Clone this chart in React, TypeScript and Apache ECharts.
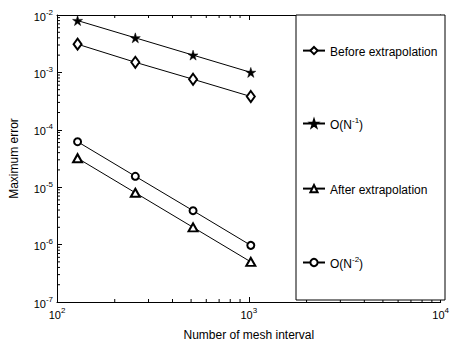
import React, { useEffect, useRef } from "react";
import * as echarts from "echarts";

const meshSizes = [128, 256, 512, 1024];
const beforeExtrap = [3.1e-3, 1.5e-3, 7.6e-4, 3.8e-4];
const orderN1 = [8.0e-3, 4.0e-3, 2.0e-3, 1.0e-3];
const afterExtrap = [3.2e-5, 8.0e-6, 2.0e-6, 5.0e-7];
const orderN2 = [6.2e-5, 1.55e-5, 3.9e-6, 9.7e-7];

const seriesNames = ["Before extrapolation", "O(N^-1)", "After extrapolation", "O(N^-2)"];
const legendLabels: Record<string, string> = {
  "Before extrapolation": "{b|Before extrapolation}",
  "O(N^-1)": "{b|O(N}{s|-1}{b|)}",
  "After extrapolation": "{b|After extrapolation}",
  "O(N^-2)": "{b|O(N}{s|-2}{b|)}",
};

const xMinorTicks = [200, 300, 400, 500, 600, 700, 800, 900, 2000, 3000, 4000, 5000, 6000, 7000, 8000, 9000];
const yMinorMantissas = [2, 3, 4, 5, 6, 7, 8, 9];
const yDecades = [-7, -6, -5, -4, -3];

const STAR =
  "path://M50 0 L61.23 34.55 L97.55 34.55 L68.16 55.9 L79.39 90.45 L50 69.1 L20.61 90.45 L31.84 55.9 L2.45 34.55 L38.77 34.55 Z";

const FONT = "Liberation Sans, Arial, Helvetica, sans-serif";

export default function App() {
  const ref = useRef<HTMLDivElement>(null);
  useEffect(() => {
    if (!ref.current) return;
    const chart = echarts.init(ref.current, undefined, { renderer: "svg" });
    const pair = (ys: number[]) => meshSizes.map((x, i) => [x, ys[i]]);
    const richLabel = {
      b: { fontSize: 11, fontFamily: FONT, color: "#000", lineHeight: 14, verticalAlign: "bottom" },
      s: { fontSize: 8, fontFamily: FONT, color: "#000", lineHeight: 9, verticalAlign: "top" },
    };
    const richLegend = {
      b: { fontSize: 12, fontFamily: FONT, color: "#000", lineHeight: 15, verticalAlign: "bottom" },
      s: { fontSize: 8, fontFamily: FONT, color: "#000", lineHeight: 9, verticalAlign: "top" },
    };
    const expFmt = (v: number) => `{b|10}{s|${Math.round(Math.log10(v))}}`;

    const yMinor: number[][] = [];
    yDecades.forEach((d) => yMinorMantissas.forEach((m) => yMinor.push([100, m * Math.pow(10, d)])));
    const xMinor = xMinorTicks.map((x) => [x, 1e-7]);

    const lineSeries = (name: string, ys: number[], symbol: string, size: any) => ({
      type: "line",
      name,
      data: pair(ys),
      symbol,
      symbolSize: size,
      showAllSymbol: true,
      color: "#000",
      lineStyle: { color: "#000", width: 1 },
      itemStyle: { color: "#000", borderColor: "#000", borderWidth: symbol === STAR ? 0.5 : 1.2 },
      z: 5,
    });

    const makeLegend = (name: string, top: number) => ({
      show: true,
      orient: "vertical",
      left: 302,
      top,
      padding: 0,
      itemWidth: 22,
      itemHeight: 9,
      z: 60,
      data: [name],
      selectedMode: false,
      formatter: (n: string) => legendLabels[n],
      textStyle: {
        fontFamily: FONT,
        fontSize: 12,
        color: "#000",
        rich: richLegend,
      },
    });

    const axisCommon = {
      type: "log",
      logBase: 10,
      axisLine: { show: true, lineStyle: { color: "#000", width: 1 } },
      axisTick: { show: true, inside: true, length: 5, lineStyle: { color: "#000" } },
      splitLine: { show: false },
      minorTick: { show: false },
    };

    chart.setOption({
      animation: false,
      backgroundColor: "#fff",
      grid: { left: 52, right: 8, top: 15, bottom: 37 },
      xAxis: [
        {
          ...axisCommon,
          position: "bottom",
          min: 100,
          max: 10000,
          interval: 1,
          name: "Number of mesh interval",
          nameLocation: "middle",
          nameGap: 27,
          nameTextStyle: { fontFamily: FONT, fontSize: 12, color: "#000" },
          axisLabel: { formatter: expFmt, margin: 4, rich: richLabel },
        },
        {
          ...axisCommon,
          position: "top",
          min: 100,
          max: 10000,
          interval: 1,
          axisLabel: { show: false },
        },
      ],
      yAxis: [
        {
          ...axisCommon,
          position: "left",
          min: 1e-7,
          max: 1e-2,
          interval: 1,
          name: "Maximum error",
          nameLocation: "middle",
          nameGap: 37,
          nameTextStyle: { fontFamily: FONT, fontSize: 12, color: "#000" },
          axisLabel: { formatter: expFmt, margin: 4, rich: richLabel },
        },
        {
          ...axisCommon,
          position: "right",
          min: 1e-7,
          max: 1e-2,
          interval: 1,
          axisLabel: { show: false },
        },
      ],
      legend: [
        makeLegend(seriesNames[0], 46),
        makeLegend(seriesNames[1], 116),
        makeLegend(seriesNames[2], 184),
        makeLegend(seriesNames[3], 255),
      ],
      graphic: [
        {
          type: "rect",
          shape: { x: 296, y: 15, width: 149, height: 285 },
          style: { fill: "#fff", stroke: "#000", lineWidth: 1 },
          z: 50,
        },
      ],
      series: [
        lineSeries(seriesNames[0], beforeExtrap, "emptyDiamond", [8, 11]),
        lineSeries(seriesNames[1], orderN1, STAR, 10),
        lineSeries(seriesNames[2], afterExtrap, "emptyTriangle", [9, 8]),
        lineSeries(seriesNames[3], orderN2, "emptyCircle", 7),
        {
          type: "custom",
          name: "xminor",
          data: xMinor,
          silent: true,
          z: 3,
          renderItem: (params: any, api: any) => {
            const p = api.coord([api.value(0), api.value(1)]);
            const cs = params.coordSys;
            const st = { stroke: "#000", lineWidth: 1 };
            return {
              type: "group",
              children: [
                { type: "line", shape: { x1: p[0], y1: cs.y + cs.height, x2: p[0], y2: cs.y + cs.height - 3 }, style: st },
                { type: "line", shape: { x1: p[0], y1: cs.y, x2: p[0], y2: cs.y + 3 }, style: st },
              ],
            };
          },
        },
        {
          type: "custom",
          name: "yminor",
          data: yMinor,
          silent: true,
          z: 3,
          renderItem: (params: any, api: any) => {
            const p = api.coord([api.value(0), api.value(1)]);
            const cs = params.coordSys;
            const st = { stroke: "#000", lineWidth: 1 };
            return {
              type: "line",
              shape: { x1: cs.x, y1: p[1], x2: cs.x + 3, y2: p[1] },
              style: st,
            };
          },
        },
      ],
    });
    return () => chart.dispose();
  }, []);
  return (
    <div
      ref={ref}
      style={{ position: "fixed", left: 0, top: 0, width: 452, height: 346, background: "#fff" }}
    />
  );
}
